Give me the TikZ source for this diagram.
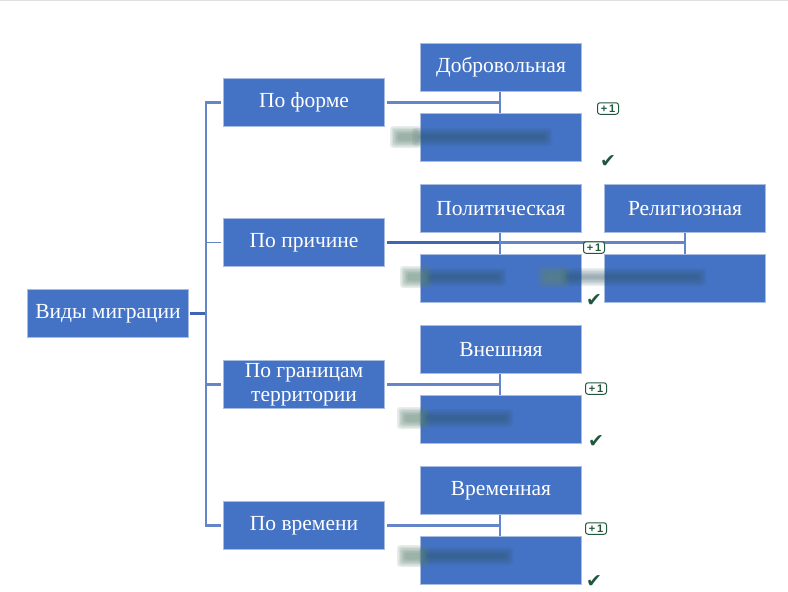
\documentclass[tikz,border=0pt]{standalone}
\usepackage{fontspec}
\setmainfont{Liberation Serif}
\newfontfamily\symfont{DejaVu Sans}
\newfontfamily\badgefont{Liberation Sans}
\usetikzlibrary{calc}
\definecolor{boxblue}{HTML}{4472C4}
\definecolor{boxedge}{HTML}{A9BDE3}
\definecolor{linkblue}{HTML}{6485C8}
\definecolor{linkdark}{HTML}{3F66B4}
\definecolor{marks}{HTML}{21573F}
\definecolor{smudgedark}{HTML}{2F5566}
\definecolor{smudgeleft}{HTML}{5F8475}
\tikzset{
  box/.style={draw=boxedge,line width=0.6pt,fill=boxblue,text=white,minimum width=161.4pt,minimum height=48.4pt,
    inner sep=0pt,align=center,font=\fontsize{21.5}{24}\selectfont,anchor=north west},
  link/.style={draw=linkblue,line width=2.2pt},
  strong/.style={draw=linkdark,line width=2.6pt},
  stem/.style={draw=linkblue,line width=2pt},
  badge/.style={draw=marks,line width=1pt,fill=white,rounded corners=2.5pt,minimum width=21pt,minimum height=11.5pt,
    inner sep=0pt,text=marks,font=\badgefont\bfseries\fontsize{11}{11}\selectfont},
  tick/.style={text=marks,inner sep=0pt,font=\symfont\fontsize{19}{19}\selectfont},
}
\newcommand{\smudge}[3]{%
  \foreach \g in {0,1.5,3,4.5,6,7.5}{
    \fill[smudgedark,opacity=0.10,rounded corners=3pt] (#1+22+\g,#3-9+\g) rectangle (#2-\g,#3+9-\g);
    \fill[smudgeleft,opacity=0.15,rounded corners=3pt] (#1+\g,#3-11+\g) rectangle (#1+32-\g,#3+11-\g);
  }
}
\begin{document}
\begin{tikzpicture}[x=1pt,y=-1pt]
\useasboundingbox (0,0) rectangle (788,592);
\fill[black!12] (0,0) rectangle (788,0.8);

\node[box] (root) at (27,289) {\raisebox{-1pt}{Виды миграции}};
\node[box] (forma) at (223,78) {\raisebox{-1pt}{По форме}};
\node[box] (prich) at (223,218) {\raisebox{-1pt}{По причине}};
\node[box] (gran) at (223,360) {\raisebox{-2pt}{По границам}\\\raisebox{-2pt}{территории}};
\node[box] (vrem) at (223,501) {\raisebox{-1pt}{По времени}};

\node[box] (dobr) at (420,43) {\raisebox{-1pt}{Добровольная}};
\node[box] (prin) at (420,113) {};
\node[box] (polit) at (420,184) {Политическая};
\node[box] (relig) at (604,184) {Религиозная};
\node[box] (prir) at (420,254) {};
\node[box] (econ) at (604,254) {};
\node[box] (vnesh) at (420,325) {Внешняя};
\node[box] (vnut) at (420,395) {};
\node[box] (vremen) at (420,466) {Временная};
\node[box] (post) at (420,536) {};

\coordinate (spine) at (206,314);
\coordinate (stemx) at (500,0);
\coordinate (stemy) at (685,0);

% root to spine and branches
\draw[strong] ([xshift=1pt]root.east) -- (root.east -| spine);
\draw[link] ([xshift=-2pt]forma.west) -| (vrem.west -| spine) -- ([xshift=-2pt]vrem.west);
\draw[link,line width=1.6pt] ([xshift=-2pt]prich.west) -- (prich.west -| spine);
\draw[link] ([xshift=-2pt]gran.west) -- (gran.west -| spine);

% right-hand connectors
\draw[link] ([xshift=2pt]forma.east) -- (forma.east -| stemx);
\draw[stem] (dobr.south -| stemx) -- (prin.north -| stemx);
\draw[link] (prich.east -| stemx) -- (prich.east -| stemy);
\draw[strong] ([xshift=2pt]prich.east) -- (prich.east -| stemx);
\draw[stem] (polit.south -| stemx) -- (prir.north -| stemx);
\draw[stem] (relig.south -| stemy) -- (econ.north -| stemy);
\draw[link] ([xshift=2pt]gran.east) -- (gran.east -| stemx);
\draw[stem] (vnesh.south -| stemx) -- (vnut.north -| stemx);
\draw[link] ([xshift=2pt]vrem.east) -- (vrem.east -| stemx);
\draw[stem] (vremen.south -| stemx) -- (post.north -| stemx);

% blurred-out labels
\smudge{390}{552}{137}
\smudge{400}{506}{277}
\smudge{538}{706}{277}
\smudge{397}{513}{418}
\smudge{397}{513}{556}

% review marks
\node[badge] (b1) at (608,108.5) {+\,1};
\node[badge] (b2) at (594,247.5) {+\,1};
\node[badge] (b3) at (596,388.5) {+\,1};
\node[badge] (b4) at (596,528.5) {+\,1};
\node[tick] (t1) at (608,161.5) {✔};
\node[tick] (t2) at (594,300.5) {✔};
\node[tick] (t3) at (596,441.5) {✔};
\node[tick] (t4) at (594,581.5) {✔};
\end{tikzpicture}
\end{document}
